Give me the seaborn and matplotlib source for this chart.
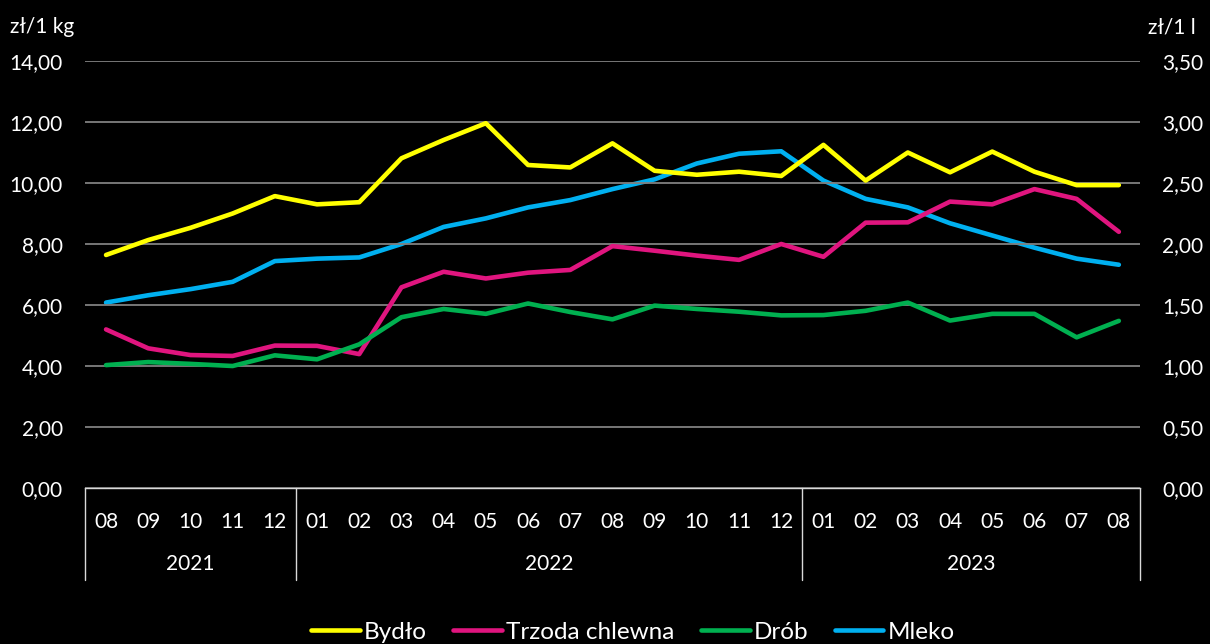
import seaborn as sns
import matplotlib.pyplot as plt
import matplotlib.transforms as mtransforms
from matplotlib.ticker import FuncFormatter

# data (2021-08 .. 2023-08)
months = ["08", "09", "10", "11", "12",
          "01", "02", "03", "04", "05", "06", "07", "08", "09", "10", "11", "12",
          "01", "02", "03", "04", "05", "06", "07", "08"]
years = ["2021", "2022", "2023"]
year_spans = [(0, 4), (5, 16), (17, 24)]

bydlo = [7.64, 8.13, 8.53, 9.00, 9.57, 9.30, 9.37, 10.81, 11.41, 11.96, 10.59, 10.51, 11.30,
         10.40, 10.27, 10.37, 10.23, 11.25, 10.08, 11.00, 10.35, 11.03, 10.37, 9.93, 9.93]
trzoda = [5.20, 4.58, 4.36, 4.33, 4.67, 4.66, 4.39, 6.58, 7.09, 6.87, 7.06, 7.15, 7.93,
          7.78, 7.62, 7.48, 8.00, 7.58, 8.70, 8.71, 9.39, 9.30, 9.80, 9.48, 8.40]
drob = [4.03, 4.13, 4.07, 4.00, 4.35, 4.22, 4.71, 5.60, 5.87, 5.71, 6.05, 5.77, 5.53,
        5.98, 5.87, 5.78, 5.66, 5.67, 5.81, 6.08, 5.49, 5.71, 5.71, 4.94, 5.48]
mleko = [1.52, 1.58, 1.63, 1.69, 1.86, 1.88, 1.89, 2.00, 2.14, 2.21, 2.30, 2.36, 2.45,
         2.53, 2.66, 2.74, 2.76, 2.52, 2.37, 2.30, 2.17, 2.07, 1.97, 1.88, 1.83]

sns.set_theme(style="dark")
plt.rcParams['font.family'] = ['Lato', 'DejaVu Sans']
plt.rcParams['figure.facecolor'] = 'black'
plt.rcParams['axes.facecolor'] = 'black'

fig = plt.figure(figsize=(12.1, 6.44), dpi=100)
ax = fig.add_axes([0.0702, 0.2422, 0.8719, 0.6631])
ax2 = ax.twinx()

x = list(range(len(months)))
lw = 3.3
sns.lineplot(x=x, y=bydlo, ax=ax, color="#FFFF00", lw=lw, label="Bydło", legend=False)
sns.lineplot(x=x, y=trzoda, ax=ax, color="#E0157F", lw=lw, label="Trzoda chlewna", legend=False)
sns.lineplot(x=x, y=drob, ax=ax, color="#00B050", lw=lw, label="Drób", legend=False)
sns.lineplot(x=x, y=mleko, ax=ax2, color="#00B0F0", lw=lw, label="Mleko", legend=False)

fmt = FuncFormatter(lambda v, p: f"{v:.2f}".replace(".", ","))
ax.set_ylim(0, 14)
ax.set_yticks([0, 2, 4, 6, 8, 10, 12, 14])
ax.yaxis.set_major_formatter(fmt)
ax2.set_ylim(0, 3.5)
ax2.set_yticks([0, 0.5, 1, 1.5, 2, 2.5, 3, 3.5])
ax2.yaxis.set_major_formatter(fmt)
ax.set_xlim(-0.5, len(months) - 0.5)
ax.set_xticks(x)
ax.set_xticklabels(months)

ax.grid(axis='y', color="#808080", lw=1.3)
ax.grid(axis='x', visible=False)
ax2.grid(False)
for a in (ax, ax2):
    for s in a.spines.values():
        s.set_visible(False)
    a.tick_params(colors="white", labelsize=15, length=0)
ax.spines['bottom'].set_visible(True)
ax.spines['bottom'].set_color("#d9d9d9")
ax.spines['bottom'].set_linewidth(1)
ax.tick_params(axis='y', pad=16)
ax2.tick_params(axis='y', pad=16)
ax.tick_params(axis='x', pad=17)
ax.set_zorder(ax2.get_zorder() + 1)
ax.patch.set_visible(False)

# two-level category axis
trans = mtransforms.blended_transform_factory(ax.transData, ax.transAxes)
for b in [-0.5, 4.5, 16.5, len(months) - 0.5]:
    ax.plot([b, b], [0, -0.215], transform=trans, color="#d9d9d9", lw=1, clip_on=False)
for yr, (a, b) in zip(years, year_spans):
    ax.text((a + b) / 2, -0.178, yr, transform=trans, color="white", fontsize=15,
            ha="center", va="center")

fig.text(10 / 1210, 1 - 27 / 644, "zł/1 kg", color="white", fontsize=15, ha="left", va="center")
fig.text(1148 / 1210, 1 - 27 / 644, "zł/1 l", color="white", fontsize=15, ha="left", va="center")

h1, l1 = ax.get_legend_handles_labels()
h2, l2 = ax2.get_legend_handles_labels()
leg = fig.legend(h1 + h2, l1 + l2, loc="center", bbox_to_anchor=(0.523, 1 - 632 / 644), ncol=4,
                 frameon=False, fontsize=17.5, handlelength=2.0, handletextpad=0.16,
                 columnspacing=1.1)
for t in leg.get_texts():
    t.set_color("white")

fig.savefig("out.png", dpi=100, facecolor="black")
